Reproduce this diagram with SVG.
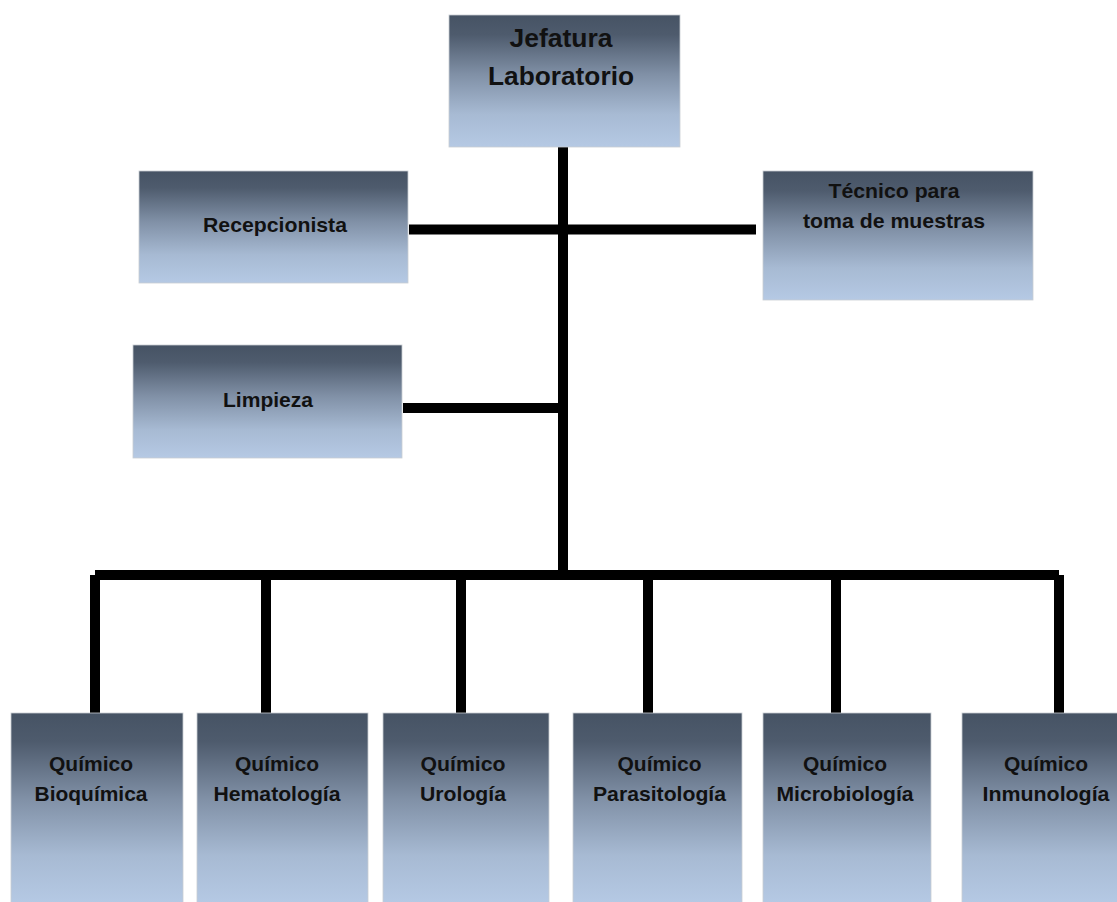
<svg xmlns="http://www.w3.org/2000/svg" width="1117" height="902" viewBox="0 0 1117 902">
  <defs>
    <linearGradient id="boxFill" x1="0" y1="0" x2="0" y2="1">
      <stop offset="0" stop-color="#465364"/>
      <stop offset="0.15" stop-color="#4e5b6d"/>
      <stop offset="0.45" stop-color="#8090a6"/>
      <stop offset="0.75" stop-color="#a7bad3"/>
      <stop offset="1" stop-color="#b5c9e4"/>
    </linearGradient>
  </defs>
  <style>
    .box { fill: url(#boxFill); stroke: #c9cdd3; stroke-width: 0.8; }
    .lbl { font-family: "Liberation Sans", Arial, sans-serif; font-weight: bold; font-size: 21px; fill: #111111; text-anchor: middle; }
    .big { font-size: 25px; }
    .conn { stroke: #000000; stroke-width: 10; fill: none; stroke-linecap: butt; }
  </style>
  <rect width="1117" height="902" fill="#ffffff"/>

  <!-- connectors -->
  <g id="connectors">
    <line class="conn" x1="563" y1="147" x2="563" y2="575"/>
    <line class="conn" x1="409" y1="229.5" x2="756" y2="229.5"/>
    <line class="conn" x1="403" y1="408" x2="563" y2="408"/>
    <line class="conn" x1="95" y1="575" x2="1059" y2="575"/>
    <line class="conn" x1="95" y1="575" x2="95" y2="713"/>
    <line class="conn" x1="266" y1="575" x2="266" y2="713"/>
    <line class="conn" x1="461" y1="575" x2="461" y2="713"/>
    <line class="conn" x1="648" y1="575" x2="648" y2="713"/>
    <line class="conn" x1="836" y1="575" x2="836" y2="713"/>
    <line class="conn" x1="1059" y1="575" x2="1059" y2="713"/>
  </g>

  <!-- top management -->
  <g id="jefatura">
    <rect class="box" x="449" y="15" width="231" height="132"/>
    <text class="lbl big" x="561" y="47" textLength="103" lengthAdjust="spacingAndGlyphs">Jefatura</text>
    <text class="lbl big" x="561" y="85" textLength="146" lengthAdjust="spacingAndGlyphs">Laboratorio</text>
  </g>

  <!-- staff positions -->
  <g id="recepcionista">
    <rect class="box" x="139" y="171" width="269" height="112"/>
    <text class="lbl" x="275" y="232" textLength="144" lengthAdjust="spacingAndGlyphs">Recepcionista</text>
  </g>

  <g id="tecnico">
    <rect class="box" x="763" y="171" width="270" height="129"/>
    <text class="lbl" x="894" y="198" textLength="131" lengthAdjust="spacingAndGlyphs">Técnico para</text>
    <text class="lbl" x="894" y="228" textLength="182" lengthAdjust="spacingAndGlyphs">toma de muestras</text>
  </g>

  <g id="limpieza">
    <rect class="box" x="133" y="345" width="269" height="113"/>
    <text class="lbl" x="268" y="407" textLength="90" lengthAdjust="spacingAndGlyphs">Limpieza</text>
  </g>

  <!-- chemists -->
  <g id="bioquimica">
    <rect class="box" x="11" y="713" width="172" height="190"/>
    <text class="lbl" x="91" y="771" textLength="84" lengthAdjust="spacingAndGlyphs">Químico</text>
    <text class="lbl" x="91" y="801" textLength="113" lengthAdjust="spacingAndGlyphs">Bioquímica</text>
  </g>

  <g id="hematologia">
    <rect class="box" x="197" y="713" width="171" height="190"/>
    <text class="lbl" x="277" y="771" textLength="84" lengthAdjust="spacingAndGlyphs">Químico</text>
    <text class="lbl" x="277" y="801" textLength="127" lengthAdjust="spacingAndGlyphs">Hematología</text>
  </g>

  <g id="urologia">
    <rect class="box" x="383" y="713" width="166" height="190"/>
    <text class="lbl" x="463" y="771" textLength="85" lengthAdjust="spacingAndGlyphs">Químico</text>
    <text class="lbl" x="463" y="801" textLength="86" lengthAdjust="spacingAndGlyphs">Urología</text>
  </g>

  <g id="parasitologia">
    <rect class="box" x="573" y="713" width="169" height="190"/>
    <text class="lbl" x="659.5" y="771" textLength="84" lengthAdjust="spacingAndGlyphs">Químico</text>
    <text class="lbl" x="659.5" y="801" textLength="133" lengthAdjust="spacingAndGlyphs">Parasitología</text>
  </g>

  <g id="microbiologia">
    <rect class="box" x="763" y="713" width="168" height="190"/>
    <text class="lbl" x="845" y="771" textLength="84" lengthAdjust="spacingAndGlyphs">Químico</text>
    <text class="lbl" x="845" y="801" textLength="137" lengthAdjust="spacingAndGlyphs">Microbiología</text>
  </g>

  <g id="inmunologia">
    <rect class="box" x="962" y="713" width="160" height="190"/>
    <text class="lbl" x="1046" y="771" textLength="84" lengthAdjust="spacingAndGlyphs">Químico</text>
    <text class="lbl" x="1046" y="801" textLength="127" lengthAdjust="spacingAndGlyphs">Inmunología</text>
  </g>
</svg>
